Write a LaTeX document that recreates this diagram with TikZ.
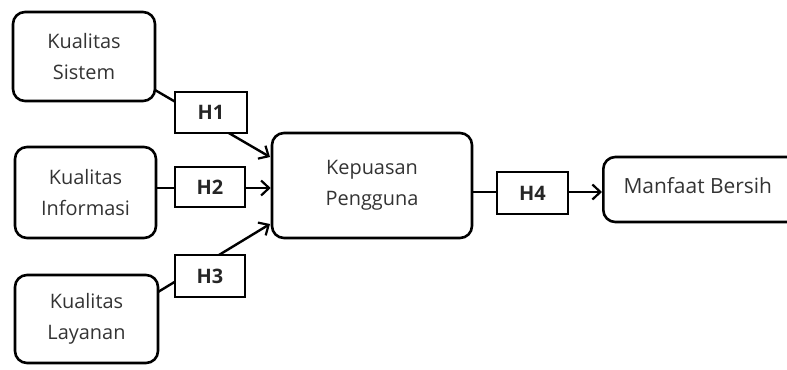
\documentclass[tikz,border=0pt]{standalone}
\usepackage{fontspec}
\setmainfont{Open Sans}
\usetikzlibrary{arrows.meta}
\begin{document}
\begin{tikzpicture}[x=1bp,y=-1bp,
  var/.style={draw,line width=2.6bp,rounded corners=12bp,align=center,inner sep=0pt,text=black!80,font=\fontsize{20}{31}\selectfont},
  hyp/.style={draw,fill=white,line width=1.3bp,inner sep=0pt,text=black!85,font=\bfseries\fontsize{20}{22}\selectfont},
  conn/.style={line width=2.4bp},
  arr/.style={conn,-{Straight Barb[length=8bp,width=15bp,line width=2.2bp]}}]
\clip (0,0) rectangle (787,369);
\node[var,minimum width=142bp,minimum height=89bp] (ks) at (84,56.5) {Kualitas\\Sistem};
\node[var,minimum width=141bp,minimum height=91bp] (ki) at (85.5,192.5) {Kualitas\\Informasi};
\node[var,minimum width=143bp,minimum height=88bp] (kl) at (86.5,319) {Kualitas\\Layanan};
\node[var,minimum width=200bp,minimum height=105bp] (kp) at (372,185.5) {Kepuasan\\Pengguna};
\node[var,minimum width=200bp,minimum height=65bp,anchor=west] (mb) at (602,189.5) {};
\node[anchor=west,text=black!80,font=\fontsize{21}{22}\selectfont] (mbt) at (620,186) {Manfaat Bersih};
\coordinate (s1) at (155,90);
\coordinate (t1) at (270,157);
\coordinate (s3) at (158,292);
\coordinate (t3) at (270,224);
\draw[arr] (s1) -- (t1);
\draw[arr] (ki.east |- 0,188) -- (kp.west |- 0,188);
\draw[arr] (s3) -- (t3);
\draw[arr] (kp.east |- 0,192) -- (mb.west |- 0,192);
\node[hyp,minimum width=72bp,minimum height=41bp] (h1) at (211,112.5) {H1};
\node[hyp,minimum width=70bp,minimum height=40bp] (h2) at (210,187) {H2};
\node[hyp,minimum width=70bp,minimum height=42bp] (h3) at (210,276) {H3};
\node[hyp,minimum width=71bp,minimum height=42bp] (h4) at (532.5,193) {H4};
\end{tikzpicture}
\end{document}
